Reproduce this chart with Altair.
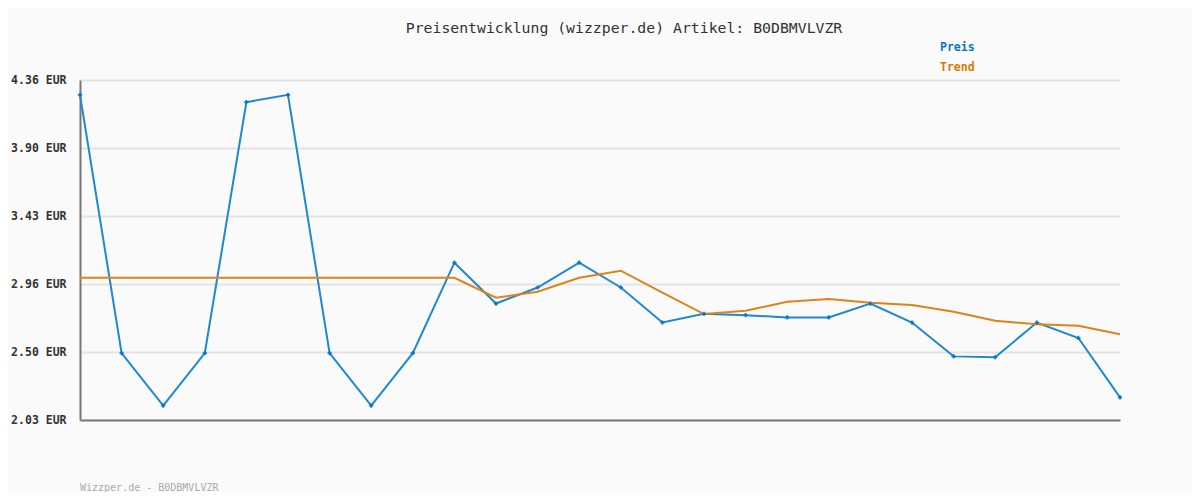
import altair as alt
import pandas as pd

idx = list(range(26))
preis = [4.26, 2.49, 2.13, 2.49, 4.21, 4.26, 2.49, 2.13, 2.49, 3.11,
         2.83, 2.94, 3.11, 2.94, 2.70, 2.76, 2.75, 2.735, 2.735, 2.83,
         2.70, 2.468, 2.462, 2.70, 2.594, 2.187]
trend = [3.007, 3.007, 3.007, 3.007, 3.007, 3.007, 3.007, 3.007, 3.007, 3.007,
         2.870, 2.911, 3.007, 3.055, 2.905, 2.758, 2.781, 2.842, 2.861, 2.836,
         2.820, 2.774, 2.712, 2.688, 2.678, 2.619]
tick_values = [2.032, 2.498, 2.964, 3.430, 3.896, 4.362]
title_text = "Preisentwicklung (wizzper.de) Artikel: B0DBMVLVZR"
footer_text = "Wizzper.de - B0DBMVLVZR"
legend_labels = ["Preis", "Trend"]

df = pd.DataFrame({"i": idx, "Preis": preis, "Trend": trend})

MONO = "DejaVu Sans Mono"
BLUE = "#1f88d0"
ORANGE = "#e0821a"

xs = alt.X("i:Q", scale=alt.Scale(domain=[0, 25], nice=False, zero=False),
           axis=alt.Axis(labels=False, ticks=False, grid=False, title=None,
                         domainColor="#777777", domainWidth=2))
ys = alt.Y("Preis:Q", scale=alt.Scale(domain=[tick_values[0], tick_values[-1]], nice=False, zero=False),
           axis=alt.Axis(values=tick_values, title=None, ticks=False,
                         labelExpr="format(datum.value, '.2f') + ' EUR'",
                         labelFont=MONO, labelFontWeight="bold", labelFontSize=11.5,
                         labelColor="#333333", labelPadding=14,
                         grid=True, gridColor="#e4e4e4", gridWidth=2,
                         domainColor="#777777", domainWidth=2))

base = alt.Chart(df)

trend_line = base.mark_line(color=ORANGE, strokeWidth=2).encode(
    x=xs, y=alt.Y("Trend:Q", scale=alt.Scale(domain=[tick_values[0], tick_values[-1]], nice=False, zero=False)))
preis_line = base.mark_line(color=BLUE, strokeWidth=2).encode(x=xs, y=ys)
preis_pts = base.mark_point(shape="cross", filled=True, size=18, color="#0a74c8", opacity=1).encode(
    x=xs, y=alt.Y("Preis:Q"))

title = alt.Chart(pd.DataFrame({"t": [title_text]})).mark_text(
    font=MONO, fontSize=14.8, color="#333333", align="center", baseline="middle"
).encode(text="t:N", x=alt.value(544), y=alt.value(-51))

leg1 = alt.Chart(pd.DataFrame({"t": [legend_labels[0]]})).mark_text(
    font=MONO, fontSize=11.5, fontWeight="bold", color="#0a74c8", align="left", baseline="middle"
).encode(text="t:N", x=alt.value(860), y=alt.value(-32))
leg2 = alt.Chart(pd.DataFrame({"t": [legend_labels[1]]})).mark_text(
    font=MONO, fontSize=11.5, fontWeight="bold", color="#dd7700", align="left", baseline="middle"
).encode(text="t:N", x=alt.value(860), y=alt.value(-12))

footer = alt.Chart(pd.DataFrame({"t": [footer_text]})).mark_text(
    font=MONO, fontSize=10, color="#aaaaaa", align="left", baseline="middle"
).encode(text="t:N", x=alt.value(0), y=alt.value(408))

chart = alt.layer(preis_line, trend_line, preis_pts, title, leg1, leg2, footer).properties(
    width=1040, height=340,
    autosize=alt.AutoSizeParams(type="none"),
    padding={"left": 72, "top": 72, "right": 72, "bottom": 72},
    background="#fafafa",
).configure_view(stroke=None, fill="#fafafa")

chart.save("out.html", embed_options={"renderer": "svg", "actions": False})
